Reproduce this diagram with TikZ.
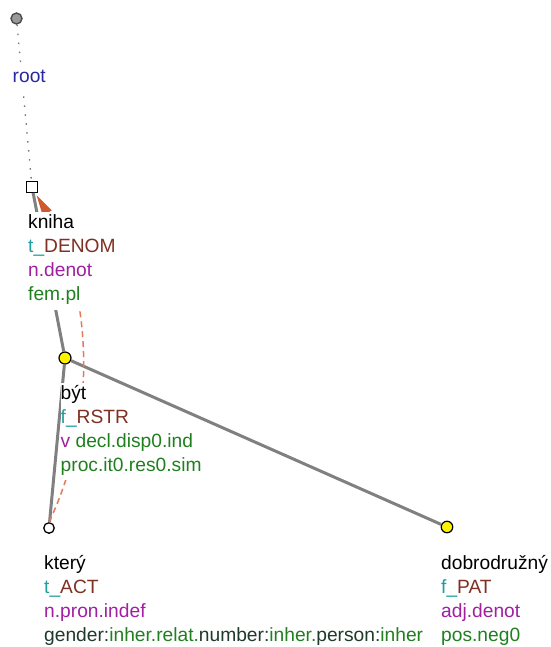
\documentclass[tikz,border=0pt]{standalone}
\usepackage{fontspec}
\setmainfont{Liberation Sans}
\usetikzlibrary{arrows.meta}
\definecolor{tealc}{HTML}{1E9E9E}
\definecolor{brownc}{HTML}{7F3022}
\definecolor{purplec}{HTML}{A020A0}
\definecolor{greenc}{HTML}{208020}
\definecolor{darkc}{HTML}{1F3A2C}
\definecolor{rootc}{HTML}{2828A0}
\definecolor{edgec}{HTML}{808080}
\definecolor{corefc}{HTML}{E07A5A}
\definecolor{arrowc}{HTML}{D05A30}
\tikzset{
  lbl/.style={anchor=base west, inner sep=0pt, fill=white, text height=16pt, text depth=8.6pt,
    font=\fontsize{19.2}{24}\selectfont},
  ycirc/.style={circle, draw=black, line width=1.2pt, fill=yellow, minimum size=12pt, inner sep=0pt},
  wcirc/.style={circle, draw=black, line width=1.3pt, fill=white, minimum size=10.5pt, inner sep=0pt},
  rcirc/.style={circle, draw=black!70, line width=1.4pt, fill=black!40, minimum size=11pt, inner sep=0pt},
  sqnode/.style={rectangle, draw=black, line width=1.3pt, fill=white, minimum size=10.5pt, inner sep=0pt},
  edge/.style={draw=edgec, line width=3pt},
  rootedge/.style={draw=black!55, line width=1.3pt, dash pattern=on 1.5pt off 7.5pt},
  coref/.style={draw=corefc, line width=1.5pt, dash pattern=on 6pt off 4pt,
    -{Triangle[length=21pt,width=10pt,fill=arrowc,color=arrowc]}}
}
\begin{document}
\begin{tikzpicture}[x=1pt,y=-1pt]
\useasboundingbox (0,0) rectangle (550,647);
% nodes
\node[rcirc] (root) at (16.5,18.5) {};
\node[sqnode] (kniha) at (32,187) {};
\node[ycirc] (byt) at (65,358) {};
\node[wcirc] (ktery) at (49,528) {};
\node[ycirc, minimum size=11.5pt] (dobro) at (447,527) {};
% edges
\draw[rootedge] (root) -- (kniha);
\draw[edge] (kniha) -- (byt);
\draw[edge] (byt) -- (ktery);
\draw[edge] (byt) -- (dobro);
\coordinate (knihatip) at (36.5,195);
\draw[coref] (ktery.north) .. controls (98,420) and (93,290) .. (knihatip);
% labels
\node[lbl] (rootl) at (12.5,83) {\color{rootc}root};
\node[lbl] (kn1) at (28,228) {kniha};
\node[lbl] (kn2) at (28,252.3) {\color{tealc}t\_\color{brownc}DENOM};
\node[lbl] (kn3) at (28,276.6) {\color{purplec}n.denot};
\node[lbl] (kn4) at (28,300.9) {\color{greenc}fem.pl};
\node[lbl] (by1) at (60.5,399) {být};
\node[lbl] (by2) at (60.5,423.2) {\color{tealc}f\_\color{brownc}RSTR};
\node[lbl] (by3) at (60.5,447.4) {\color{purplec}v \color{greenc}decl.disp0.ind};
\node[lbl] (by4) at (60.5,471.6) {\color{greenc}proc.it0.res0.sim};
\node[lbl] (kt1) at (44,569) {který};
\node[lbl] (kt2) at (44,593.2) {\color{tealc}t\_\color{brownc}ACT};
\node[lbl] (kt3) at (44,617.4) {\color{purplec}n.pron.indef};
\node[lbl] (kt4) at (44,641.6) {\color{darkc}gender:\color{greenc}inher.relat.\color{darkc}number:\color{greenc}inher.\color{darkc}person:\color{greenc}inher};
\node[lbl] (do1) at (441,569) {dobrodružný};
\node[lbl] (do2) at (441,593.2) {\color{tealc}f\_\color{brownc}PAT};
\node[lbl] (do3) at (441,617.4) {\color{purplec}adj.denot};
\node[lbl] (do4) at (441,641.6) {\color{greenc}pos.neg0};
\end{tikzpicture}
\end{document}
